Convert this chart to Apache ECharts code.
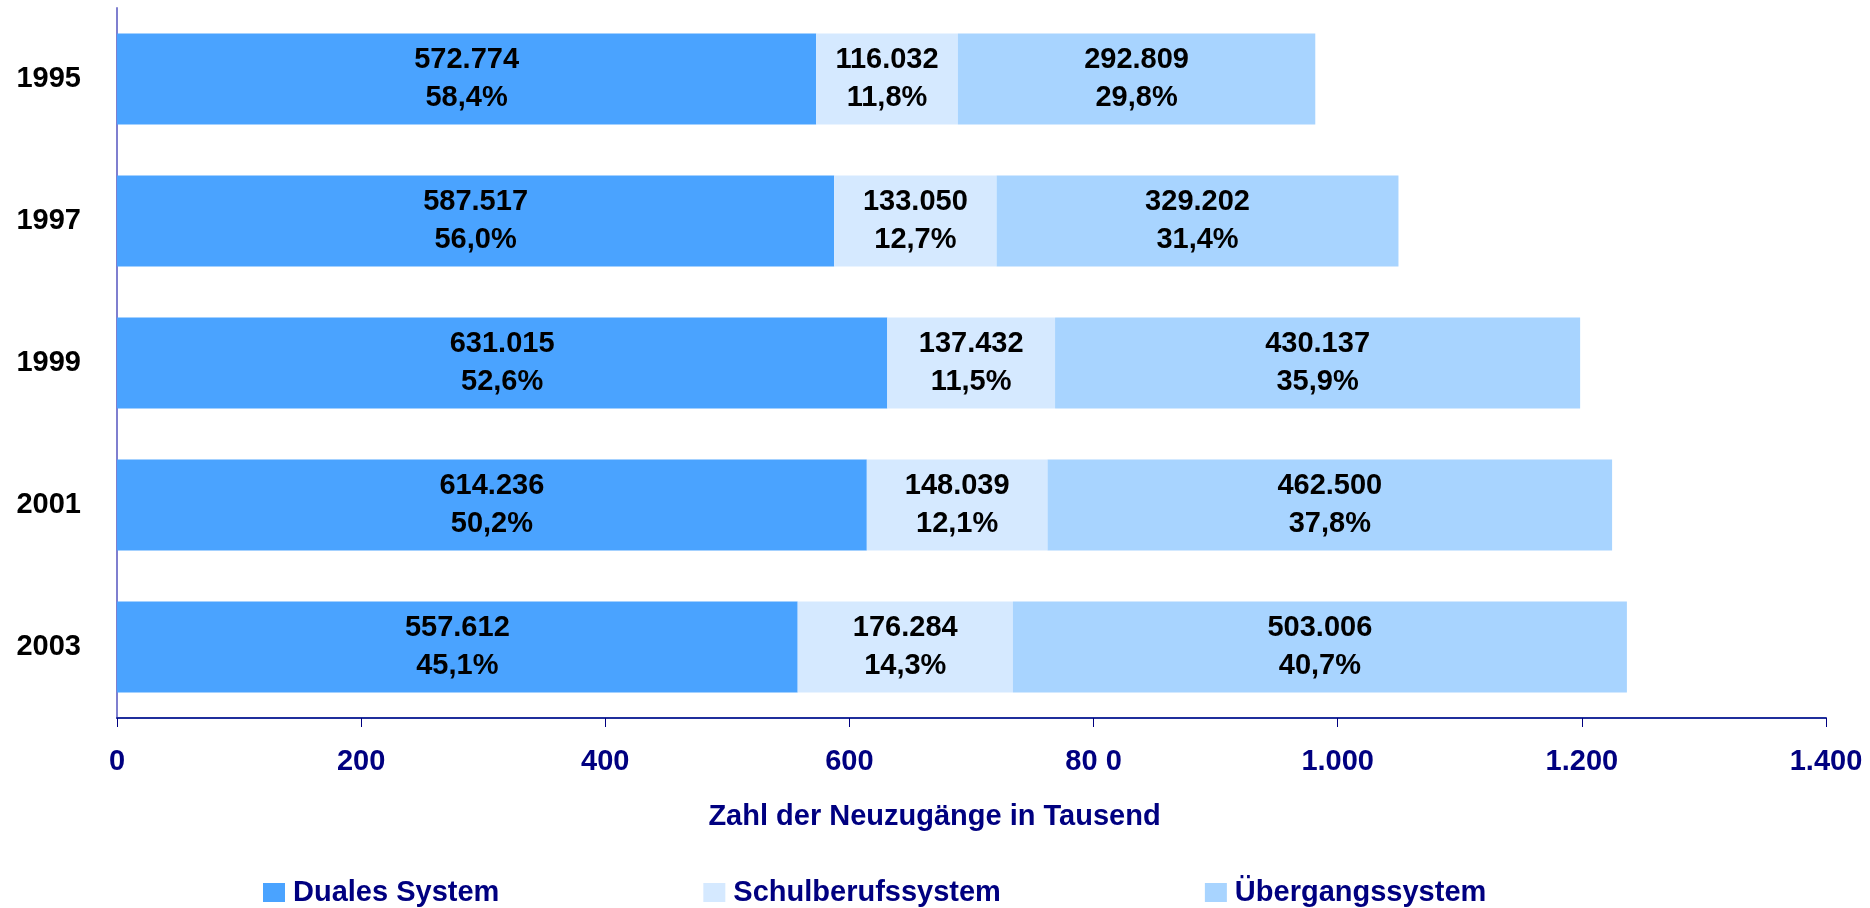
<!DOCTYPE html>
<html>
<head>
<meta charset="utf-8">
<script src="https://cdn.jsdelivr.net/npm/echarts@6/dist/echarts.min.js"></script>
<style>
html,body{margin:0;padding:0;background:#fff;}
#chart{width:1870px;height:908px;}
</style>
</head>
<body>
<div id="chart"></div>
<script>
var years = ['1995', '1997', '1999', '2001', '2003'];
var seriesNames = ['Duales System', 'Schulberufssystem', 'Übergangssystem'];
var duales = [572.774, 587.517, 631.015, 614.236, 557.612];
var schul = [116.032, 133.050, 137.432, 148.039, 176.284];
var uebergang = [292.809, 329.202, 430.137, 462.500, 503.006];
var dualesPct = ['58,4%', '56,0%', '52,6%', '50,2%', '45,1%'];
var schulPct = ['11,8%', '12,7%', '11,5%', '12,1%', '14,3%'];
var uebergangPct = ['29,8%', '31,4%', '35,9%', '37,8%', '40,7%'];
var xTickLabels = ['0', '200', '400', '600', '80 0', '1.000', '1.200', '1.400'];
var colors = ['#4aa3ff', '#d5e9ff', '#a8d4ff'];

var FONT = '"Liberation Sans", Arial, sans-serif';

function fmtNum(v) {
  return v.toFixed(3);
}

function makeSeries(name, data, pct, color) {
  return {
    name: name,
    type: 'bar',
    stack: 'total',
    data: data,
    barWidth: 91,
    itemStyle: { color: color },
    label: {
      show: true,
      position: 'inside',
      color: '#000',
      fontFamily: FONT,
      fontWeight: 'bold',
      fontSize: 29,
      lineHeight: 38,
      formatter: function (p) {
        return fmtNum(p.value) + '\n' + pct[p.dataIndex];
      }
    }
  };
}

var chart = echarts.init(document.getElementById('chart'));
chart.setOption({
  animation: false,
  backgroundColor: '#fff',
  textStyle: { fontFamily: FONT },
  grid: { left: 117, right: 44, top: 8, bottom: 190, containLabel: false },
  legend: {
    data: seriesNames,
    left: 263,
    top: 878,
    padding: 0,
    itemGap: 204,
    itemWidth: 22,
    itemHeight: 19,
    icon: 'rect',
    textStyle: {
      color: '#000080',
      fontFamily: FONT,
      fontWeight: 'bold',
      fontSize: 29,
      padding: [0, 0, 0, 3]
    }
  },
  xAxis: {
    type: 'value',
    min: 0,
    max: 1400,
    interval: 200,
    splitLine: { show: false },
    axisLine: { show: true, lineStyle: { color: '#1f2e9c', width: 2 } },
    axisTick: { show: true, length: 9, lineStyle: { color: '#000080', width: 1 } },
    axisLabel: {
      color: '#000080',
      fontFamily: FONT,
      fontWeight: 'bold',
      fontSize: 29,
      margin: 29,
      formatter: function (v) {
        return xTickLabels[Math.round(v / 200)];
      }
    },
    name: 'Zahl der Neuzugänge in Tausend',
    nameLocation: 'middle',
    nameGap: 84,
    nameTextStyle: {
      color: '#000080',
      fontFamily: FONT,
      fontWeight: 'bold',
      fontSize: 29,
      padding: [0, 74, 0, 0]
    }
  },
  yAxis: {
    type: 'category',
    data: years,
    inverse: true,
    axisLine: { show: true, lineStyle: { color: '#7f7fcf', width: 2 } },
    axisTick: { show: false },
    splitLine: { show: false },
    axisLabel: {
      color: '#000',
      fontFamily: FONT,
      fontWeight: 'bold',
      fontSize: 29,
      margin: 36
    }
  },
  series: [
    makeSeries(seriesNames[0], duales, dualesPct, colors[0]),
    makeSeries(seriesNames[1], schul, schulPct, colors[1]),
    makeSeries(seriesNames[2], uebergang, uebergangPct, colors[2])
  ]
});
</script>
</body>
</html>
